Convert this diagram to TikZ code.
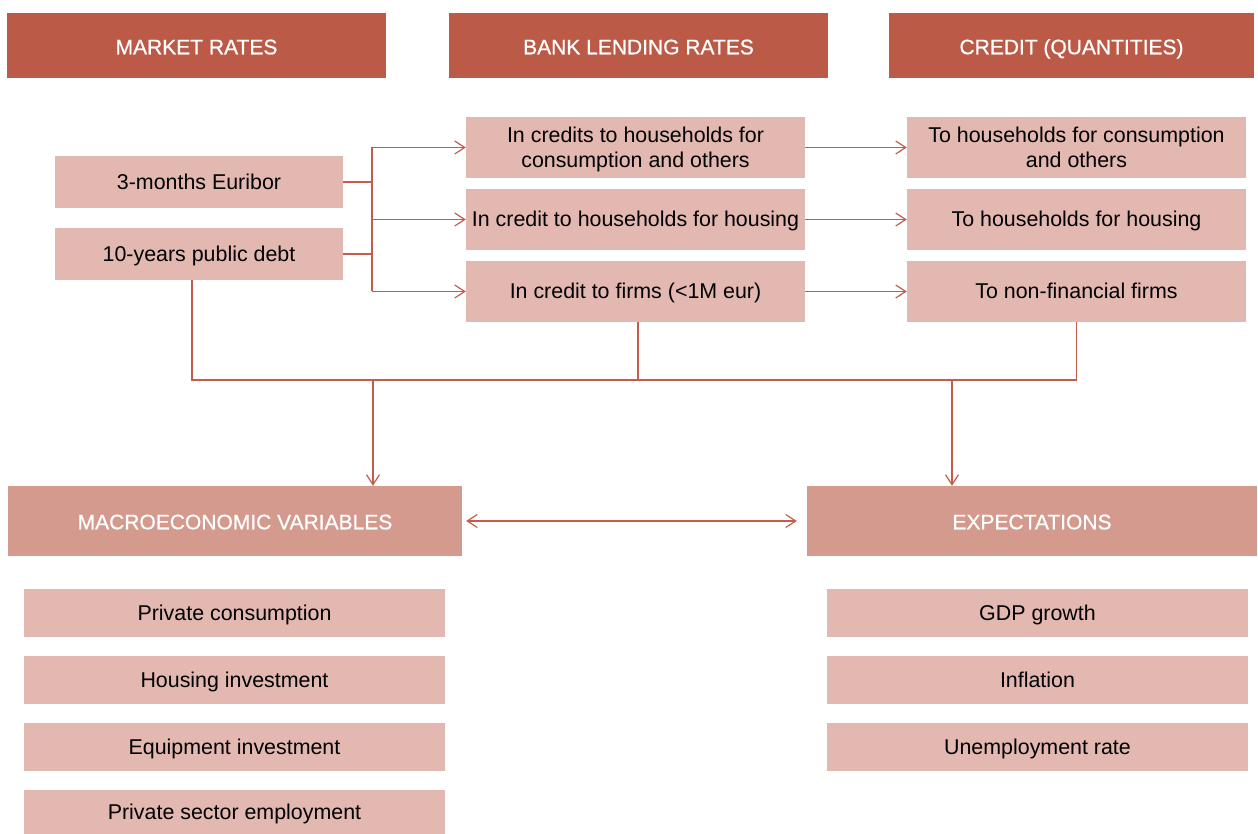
\documentclass[tikz,border=0pt]{standalone}
\usepackage{fontspec}
\setmainfont{Liberation Sans}
\newfontfamily\hdrfont[FakeBold=0.7]{Liberation Sans}
\usetikzlibrary{arrows.meta}
\definecolor{hdrc}{HTML}{BC5A48}
\definecolor{mhdrc}{HTML}{D49A8D}
\definecolor{boxc}{HTML}{E2B8B1}
\definecolor{linec}{HTML}{C45C4C}
\begin{document}
\begin{tikzpicture}[x=1pt,y=-1pt,
  base/.style={rectangle,inner sep=0pt,align=center,text height=16pt,text depth=1.4pt,font=\fontsize{21.4}{25}\selectfont},
  two/.style={text height=41pt},
  hdr/.style={base,fill=hdrc,text=white,minimum height=65pt,text height=18pt,text depth=0.4pt,font=\hdrfont\fontsize{21}{26}\selectfont},
  mhdr/.style={base,fill=mhdrc,text=white,minimum height=70pt,text height=17pt,text depth=0.4pt,font=\hdrfont\fontsize{21}{26}\selectfont},
  lbox/.style={base,fill=boxc,text=black},
  conn/.style={draw=linec,line width=1.5pt},
  arr/.style={conn,-{Straight Barb[length=10pt,width=13pt,line width=1.2pt]}},
  darr/.style={conn,{Straight Barb[length=10pt,width=13pt,line width=1.2pt]}-{Straight Barb[length=10pt,width=13pt,line width=1.2pt]}}
]
\useasboundingbox (0,0) rectangle (1258,834);
% headers
\node[hdr,minimum width=379pt] (mr) at (196.5,45.5) {MARKET RATES};
\node[hdr,minimum width=379pt] (blr) at (638.5,45.5) {BANK LENDING RATES};
\node[hdr,minimum width=365pt] (cq) at (1071.5,45.5) {CREDIT (QUANTITIES)};
% market rates
\node[lbox,minimum width=288pt,minimum height=52pt] (eur) at (199,182) {3-months Euribor};
\node[lbox,minimum width=288pt,minimum height=52pt] (pd) at (199,254) {10-years public debt};
% bank lending rates
\node[lbox,two,minimum width=339pt,minimum height=61pt] (b1) at (635.5,147.5) {In credits to households for\\consumption and others};
\node[lbox,minimum width=339pt,minimum height=61pt] (b2) at (635.5,219.5) {In credit to households for housing};
\node[lbox,minimum width=339pt,minimum height=61pt] (b3) at (635.5,291.5) {In credit to firms (<1M eur)};
% credit
\node[lbox,two,minimum width=339pt,minimum height=61pt] (c1) at (1076.5,147.5) {To households for consumption\\and others};
\node[lbox,minimum width=339pt,minimum height=61pt] (c2) at (1076.5,219.5) {To households for housing};
\node[lbox,minimum width=339pt,minimum height=61pt] (c3) at (1076.5,291.5) {To non-financial firms};
% lower headers
\node[mhdr,minimum width=454pt] (macro) at (235,521) {MACROECONOMIC VARIABLES};
\node[mhdr,minimum width=450pt] (exp) at (1032,521) {EXPECTATIONS};
% macro variables
\node[lbox,minimum width=421pt,minimum height=48pt] (l1) at (234.5,613) {Private consumption};
\node[lbox,minimum width=421pt,minimum height=48pt] (l2) at (234.5,680) {Housing investment};
\node[lbox,minimum width=421pt,minimum height=48pt] (l3) at (234.5,747) {Equipment investment};
\node[lbox,minimum width=421pt,minimum height=44pt] (l4) at (234.5,812) {Private sector employment};
% expectations
\node[lbox,minimum width=421pt,minimum height=48pt] (r1) at (1037.5,613) {GDP growth};
\node[lbox,minimum width=421pt,minimum height=48pt] (r2) at (1037.5,680) {Inflation};
\node[lbox,minimum width=421pt,minimum height=48pt] (r3) at (1037.5,747) {Unemployment rate};
% connectors: market rates to bank rates
\coordinate (j) at (372,0);
\draw[conn] (eur.east) -- (eur.east -| j);
\draw[conn] (pd.east) -- (pd.east -| j);
\draw[conn] (j |- b1.west) -- (j |- b3.west);
\draw[arr] (j |- b1.west) -- (b1.west);
\draw[arr] (j |- b2.west) -- (b2.west);
\draw[arr] (j |- b3.west) -- (b3.west);
% bank rates to credit
\draw[arr] (b1.east) -- (c1.west);
\draw[arr] (b2.east) -- (c2.west);
\draw[arr] (b3.east) -- (c3.west);
% bottom collector
\coordinate (h) at (0,380);
\coordinate (pdx) at (192,0);
\coordinate (b3x) at (638,0);
\draw[conn] (pd.south -| pdx) -- (pdx |- h) -- (c3.south |- h) -- (c3.south);
\draw[conn] (b3.south -| b3x) -- (b3x |- h);
\coordinate (ml) at (373,380);
\coordinate (ec) at (952,380);
\draw[arr] (ml) -- (ml |- macro.north);
\draw[arr] (ec) -- (ec |- exp.north);
% double arrow
\draw[darr] ([xshift=4pt]macro.east) -- ([xshift=-10pt]exp.west);
\end{tikzpicture}
\end{document}
